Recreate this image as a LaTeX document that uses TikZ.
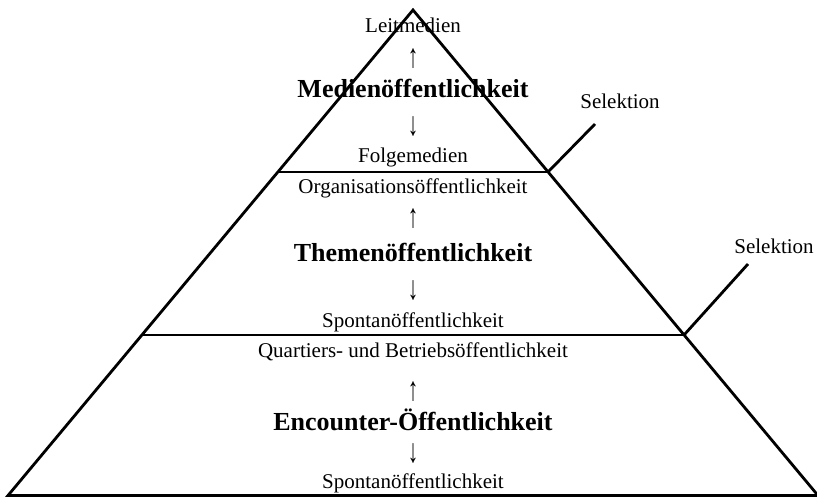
\documentclass[tikz,border=0pt]{standalone}
\usepackage{graphicx}
\usepackage{fontspec}
\setmainfont{Liberation Serif}
\newcommand{\uparr}{\scalebox{1}[1.6]{↑}}
\newcommand{\downarr}{\scalebox{1}[1.6]{↓}}
\tikzstyle{label} = [anchor=base, inner sep=0pt, font=\fontsize{21}{25}\selectfont]
\tikzstyle{sphere} = [anchor=base, inner sep=0pt, font=\fontsize{26}{30}\selectfont\bfseries]
\tikzstyle{edge} = [line width=2.8pt]

\begin{document}
\begin{tikzpicture}[x=1pt, y=-1pt]
	    \useasboundingbox (0,0) rectangle (817,498);
	    % pyramid
	    \coordinate (apex) at (413,10);
	    \coordinate (left) at (8,495.5);
	    \coordinate (right) at (818,495.5);
	    \coordinate (cutAl) at (278,172);
	    \coordinate (cutAr) at (548,172);
	    \coordinate (cutBl) at (142,335);
	    \coordinate (cutBr) at (684,335);
	    \coordinate (selA) at (595,124);
	    \coordinate (selB) at (748,264);
	    \draw [edge] (left) -- (apex) -- (right) -- cycle;
	    \draw [edge] (cutAl) -- (cutAr);
	    \draw [edge] (cutBl) -- (cutBr);

	    % Medienoeffentlichkeit
	    \node [label] at (413,32) (leit) {Leitmedien};
	    \node [label] at (413,67) (upA) {\uparr};
	    \node [sphere] at (413,97) (medien) {Medienöffentlichkeit};
	    \node [label] at (413,135) (downA) {\downarr};
	    \node [label] at (413,162) (folge) {Folgemedien};

	    % Themenoeffentlichkeit
	    \node [label] at (413,193) (orga) {Organisationsöffentlichkeit};
	    \node [label] at (413,227) (upB) {\uparr};
	    \node [sphere] at (413,261) (themen) {Themenöffentlichkeit};
	    \node [label] at (413,299) (downB) {\downarr};
	    \node [label] at (413,327) (spontanA) {Spontanöffentlichkeit};

	    % Encounter-Oeffentlichkeit
	    \node [label] at (413,357) (quartier) {Quartiers- und Betriebsöffentlichkeit};
	    \node [label] at (413,400) (upC) {\uparr};
	    \node [sphere] at (413,430) (encounter) {Encounter-Öffentlichkeit};
	    \node [label] at (413,462) (downC) {\downarr};
	    \node [label] at (413,488) (spontanB) {Spontanöffentlichkeit};

	    % Selektion
	    \node [label] at (620,108) (selekA) {Selektion};
	    \node [label] at (774,253) (selekB) {Selektion};
	    \draw [edge] (cutAr) -- (selA);
	    \draw [edge] (cutBr) -- (selB);
\end{tikzpicture}
\end{document}
